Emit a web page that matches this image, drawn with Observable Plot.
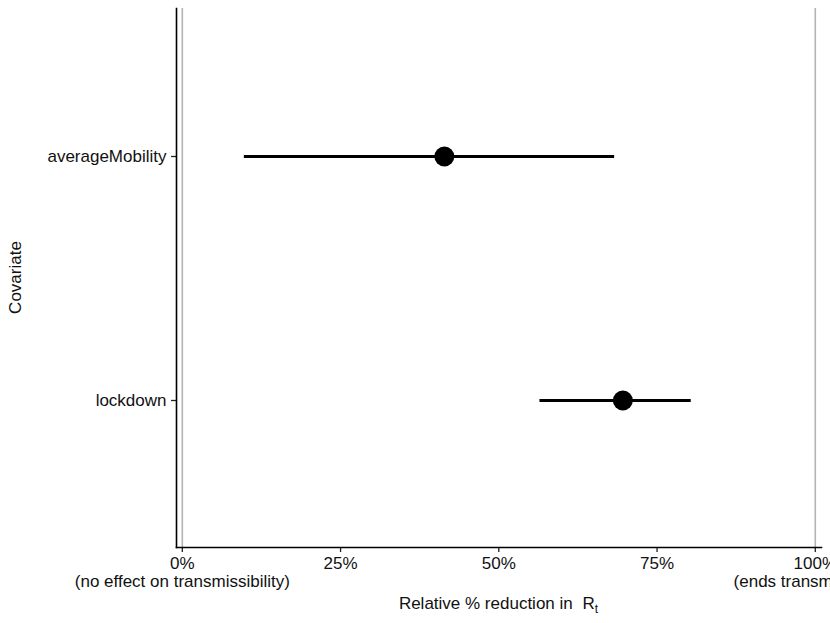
<!DOCTYPE html>
<html><head><meta charset="utf-8">
<script src="https://cdn.jsdelivr.net/npm/d3@7"></script>
<script src="https://cdn.jsdelivr.net/npm/@observablehq/plot@0.6"></script>
<style>
body{margin:0;background:#fff;}
#chart svg{font-family:"Liberation Sans",Arial,sans-serif;}
</style></head>
<body><div id="chart"></div>
<script>
const covariates = ["averageMobility", "lockdown"];
const meanReduction = [41.4, 69.6];
const lowerReduction = [9.8, 56.5];
const upperReduction = [68.3, 80.4];
const xTicks = [0, 25, 50, 75, 100];
const xTickLabels = ["0%\n(no effect on transmissibility)", "25%", "50%", "75%", "100%\n(ends transmissibility)"];
const referenceLines = [0, 100];
const xDomain = [-0.92, 100.98];
const yLabel = "Covariate";
const xLabelMain = "Relative % reduction in ";
const xLabelSymbol = "R";
const xLabelSub = "t";

const rows = covariates.map((c, i) => ({
  covariate: c, mean: meanReduction[i], lo: lowerReduction[i], hi: upperReduction[i]
}));

const W = 830, H = 623, mL = 176, mR = 9, mT = 8, mB = 76;

const chart = Plot.plot({
  width: W, height: H,
  marginLeft: mL, marginRight: mR, marginTop: mT, marginBottom: mB,
  style: {fontFamily: "Liberation Sans, Arial, sans-serif", fontSize: "17px", color: "#111", background: "#fff"},
  x: {domain: xDomain, range: [mL, W - mR]},
  y: {type: "point", domain: covariates, padding: 0.6},
  marks: [
    Plot.ruleX(referenceLines, {stroke: "#b3b3b3", strokeWidth: 1.6}),
    Plot.ruleY(rows, {y: "covariate", x1: "lo", x2: "hi", stroke: "#000", strokeWidth: 3}),
    Plot.dot(rows, {y: "covariate", x: "mean", r: 10, fill: "#000", stroke: "none"}),
    Plot.axisX({ticks: xTicks, tickFormat: (d) => xTickLabels[xTicks.indexOf(d)], tickSize: 5, tickPadding: 4, label: null, fontSize: 17, lineHeight: 1.05, stroke: "#222", strokeWidth: 1.3, fill: "#111"}),
    Plot.axisY({tickSize: 5, tickPadding: 5, label: null, fontSize: 17, stroke: "#222", strokeWidth: 1.3, fill: "#111"}),
    Plot.frame({anchor: "left", stroke: "#000", strokeWidth: 1.6}),
    Plot.frame({anchor: "bottom", stroke: "#000", strokeWidth: 1.6})
  ]
});

document.getElementById("chart").appendChild(chart);

const svg = d3.select(chart);
const cx = (mL + (W - mR)) / 2;
const title = svg.append("text")
  .attr("x", cx).attr("y", 609)
  .attr("text-anchor", "middle")
  .attr("font-size", 17)
  .attr("fill", "#111")
  .attr("font-family", "Liberation Sans, Arial, sans-serif");
title.append("tspan").text(xLabelMain);
title.append("tspan").attr("dx", 5).text(xLabelSymbol);
title.append("tspan").attr("dy", 4).attr("font-size", 12).text(xLabelSub);

svg.append("text")
  .attr("transform", `translate(21,${(mT + H - mB) / 2}) rotate(-90)`)
  .attr("text-anchor", "middle")
  .attr("font-size", 17)
  .attr("fill", "#111")
  .attr("font-family", "Liberation Sans, Arial, sans-serif")
  .text(yLabel);
</script>
</body></html>
